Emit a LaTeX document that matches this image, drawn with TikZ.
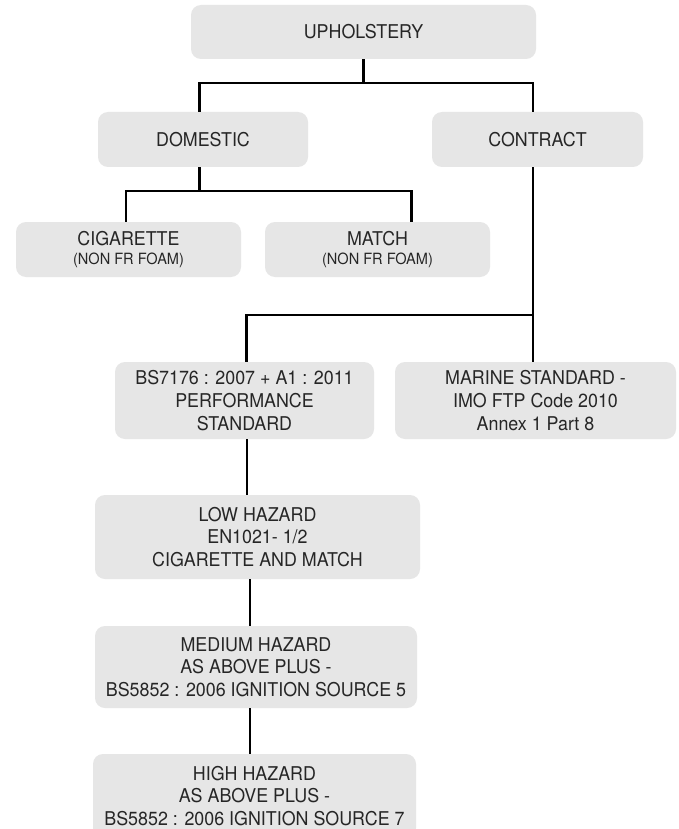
\documentclass[tikz,border=0pt]{standalone}
\usepackage{fontspec}
\setmainfont{TeX Gyre Heros}[FakeStretch=0.94]
\usetikzlibrary{calc}
\definecolor{boxgray}{HTML}{E6E6E6}
\definecolor{txt}{HTML}{262626}
\tikzset{
  box/.style={fill=boxgray, rounded corners=10pt, inner sep=0pt, text=txt, align=center,
    font=\fontsize{19}{22.7}\selectfont},
  conn/.style={draw=black, line width=2.6pt},
}
\begin{document}
\begin{tikzpicture}[x=1pt,y=-1pt]
\path[use as bounding box] (0,0) rectangle (678,829);
\clip (0,0) rectangle (678,829);
\fill[white] (0,0) rectangle (678,829);

\node[box, minimum width=345pt, minimum height=54pt] (up) at (363.5,32) {UPHOLSTERY};
\node[box, minimum width=210pt, minimum height=55pt] (dom) at (203,139.5) {DOMESTIC};
\node[box, minimum width=211pt, minimum height=55pt] (con) at (537.5,139.5) {CONTRACT};
\node[box, minimum width=225pt, minimum height=55pt] (cig) at (128.5,249.5)
  {CIGARETTE\\[-4pt]{\fontsize{15.5}{17}\selectfont (NON FR FOAM)}};
\node[box, minimum width=225pt, minimum height=55pt] (mat) at (377.5,249.5)
  {MATCH\\[-4pt]{\fontsize{15.5}{17}\selectfont (NON FR FOAM)}};
\node[box, minimum width=259pt, minimum height=77pt] (bs) at (244.5,400.5)
  {BS7176 : 2007 + A1 : 2011\\PERFORMANCE\\STANDARD};
\node[box, minimum width=281pt, minimum height=77pt] (mar) at (535.5,400.5)
  {MARINE STANDARD -\\IMO FTP Code 2010\\Annex 1 Part 8};
\node[box, minimum width=325pt, minimum height=84pt] (low) at (257.5,537)
  {LOW HAZARD\\EN1021- 1/2\\CIGARETTE AND MATCH};
\node[box, minimum width=322pt, minimum height=82pt] (med) at (256,667)
  {MEDIUM HAZARD\\AS ABOVE PLUS -\\BS5852 : 2006 IGNITION SOURCE 5};
\node[box, minimum width=323pt, minimum height=84pt] (high) at (254.5,796)
  {HIGH HAZARD\\AS ABOVE PLUS -\\BS5852 : 2006 IGNITION SOURCE 7};

% connectors
\coordinate (j1) at (363.5,83);
\coordinate (j2) at (199.5,191);
\coordinate (j3) at (533,315);
\draw[conn] (up.south) -- (j1);
\draw[conn] ([xshift=-3.5pt]dom.north) |- (j1) -| ([xshift=-4.5pt]con.north);
\draw[conn] ([xshift=-3.5pt]dom.south) -- (j2);
\draw[conn] ([xshift=-2.5pt]cig.north) |- (j2) -| ([xshift=34pt]mat.north);
\draw[conn] ([xshift=-4.5pt]con.south) -- ([xshift=-2.5pt]mar.north);
\draw[conn] ([xshift=2pt]bs.north) |- (j3);
\draw[conn] ([xshift=2.5pt]bs.south) -- ([xshift=2.5pt]bs.south |- low.north);
\draw[conn] ([xshift=-7.5pt]low.south) -- ([xshift=-7.5pt]low.south |- med.north);
\draw[conn] ([xshift=-6pt]med.south) -- ([xshift=-6pt]med.south |- high.north);
\end{tikzpicture}
\end{document}
